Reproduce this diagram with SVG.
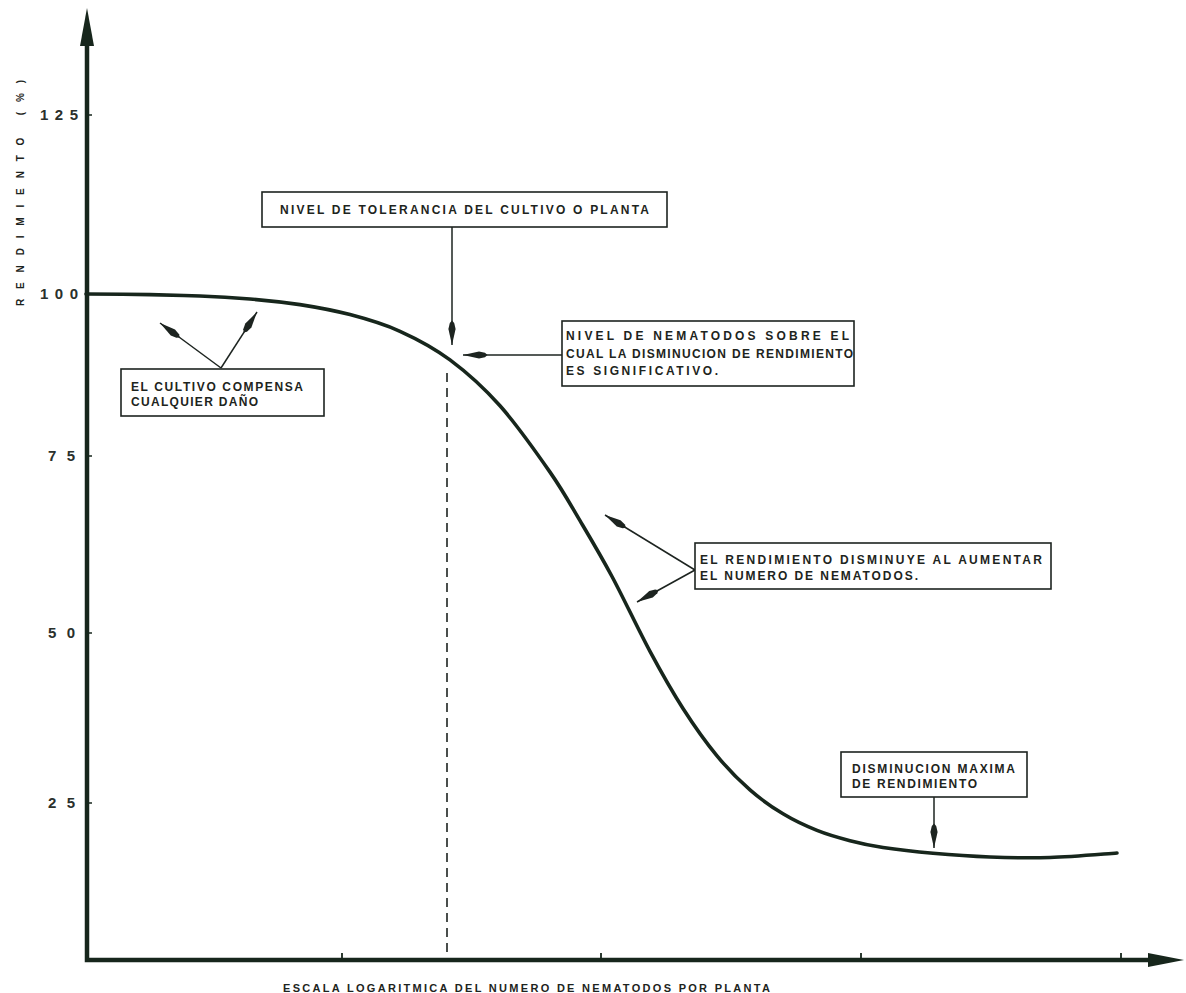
<svg xmlns="http://www.w3.org/2000/svg" width="1186" height="993" viewBox="0 0 1186 993">
<defs>
<style>
.t{font-family:"Liberation Sans",Arial,sans-serif;font-weight:bold;font-size:12px;fill:#1d2420}
.n{font-family:"Liberation Sans",Arial,sans-serif;font-weight:bold;font-size:15px;fill:#2a302c}
.box{fill:#fff;stroke:#1d2420;stroke-width:1.6}
.con{stroke:#1d2420;stroke-width:1.5;fill:none}
.axis{stroke:#17261c;stroke-width:4.5;fill:none}
</style>
<marker id="ah" markerUnits="userSpaceOnUse" markerWidth="30" markerHeight="12" viewBox="-26 -6 28 12" refX="0" refY="0" orient="auto">
<path d="M0,0 L-16,-3.6 L-22,-2.2 L-24.5,0 L-22,2.2 L-16,3.6 Z" fill="#1d2420"/>
</marker>
</defs>
<rect width="1186" height="993" fill="#fff"/>

<g id="axes">
<path class="axis" d="M87,42 L87,960 L1152,960"/>
<path d="M87,8 L80,46 L94,46 Z" fill="#17261c"/>
<path d="M1184,960 L1148,953 L1148,967 Z" fill="#17261c"/>
<path d="M87,115 h5 M87,294 h5 M87,456 h5 M87,633 h5 M87,803 h5" stroke="#17261c" stroke-width="1.5"/>
<path d="M342,960 v-7 M601,960 v-7 M861,960 v-7 M1121,960 v-7" stroke="#17261c" stroke-width="1.8"/>
<text class="n" x="40" y="120" textLength="38">125</text>
<text class="n" x="40" y="299" textLength="38">100</text>
<text class="n" x="48" y="461" textLength="27">75</text>
<text class="n" x="48" y="638" textLength="27">50</text>
<text class="n" x="48" y="808" textLength="27">25</text>
<text class="t" style="font-size:10px" transform="translate(24,306) rotate(-90)" x="0" y="0" textLength="226">RENDIMIENTO (%)</text>
<text class="t" style="font-size:11px" x="283" y="992" textLength="487">ESCALA LOGARITMICA DEL NUMERO DE NEMATODOS POR PLANTA</text>
</g>

<g id="curve">
<path d="M86,294 C96.67,294.1 131,294.3 150,294.6 C169,295 183.33,295.4 200,296 C216.67,296.6 233.33,297.6 250,299 C266.67,300.4 283.33,302.2 300,304.6 C316.67,307.2 333.33,310.22 350,314.6 C366.67,318.98 383.33,323.75 400,331.3 C416.67,338.85 433.33,347.48 450,359.9 C466.67,372.32 483.33,387.1 500,405.8 C516.67,424.5 536.67,452.95 550,472.1 C563.33,491.25 569.67,503.3 580,520.7 C590.33,538.1 600.33,554.72 612,576.5 C623.67,598.28 638.17,629.4 650,651.4 C661.83,673.4 671.83,691.08 683,708.5 C694.17,725.92 705.83,742.33 717,755.9 C728.17,769.47 739,780.25 750,789.9 C761,799.55 771.83,807.05 783,813.8 C794.17,820.55 805.83,825.92 817,830.4 C828.17,834.88 839,837.85 850,840.7 C861,843.55 869.17,845.4 883,847.5 C896.83,849.6 915.17,851.72 933,853.3 C950.83,854.88 970.5,856.3 990,857 C1009.5,857.7 1028.83,858.17 1050,857.5 C1071.17,856.83 1105.83,853.75 1117,853" fill="none" stroke="#17261c" stroke-width="3.6" stroke-linecap="round"/>
<line x1="447" y1="373" x2="447" y2="958" stroke="#1d2420" stroke-width="1.6" stroke-dasharray="9,6"/>
</g>

<g id="connectors">
<line class="con" x1="452" y1="227" x2="452" y2="345" marker-end="url(#ah)"/>
<line class="con" x1="562" y1="355" x2="463" y2="355" marker-end="url(#ah)"/>
<line class="con" x1="221" y1="368" x2="160" y2="323" marker-end="url(#ah)"/>
<line class="con" x1="221" y1="368" x2="257" y2="312" marker-end="url(#ah)"/>
<line class="con" x1="695" y1="570" x2="605" y2="515" marker-end="url(#ah)"/>
<line class="con" x1="695" y1="570" x2="637" y2="602" marker-end="url(#ah)"/>
<line class="con" x1="934" y1="797" x2="934" y2="848" marker-end="url(#ah)"/>
</g>

<g id="node-tolerancia">
<rect class="box" x="262" y="192" width="405" height="35"/>
<text class="t" x="280" y="214" textLength="369">NIVEL DE TOLERANCIA DEL CULTIVO O PLANTA</text>
</g>

<g id="node-nivel">
<rect class="box" x="562" y="321" width="292" height="65"/>
<text class="t" x="566" y="340" textLength="283">NIVEL DE NEMATODOS  SOBRE EL</text>
<text class="t" x="566" y="358" textLength="287">CUAL LA DISMINUCION DE RENDIMIENTO</text>
<text class="t" x="566" y="375" textLength="152">ES SIGNIFICATIVO.</text>
</g>

<g id="node-compensa">
<rect class="box" x="121" y="369" width="203" height="47"/>
<text class="t" x="131" y="391" textLength="172">EL CULTIVO COMPENSA</text>
<text class="t" x="131" y="406" textLength="127">CUALQUIER DAÑO</text>
</g>

<g id="node-disminuye">
<rect class="box" x="695" y="543" width="356" height="46"/>
<text class="t" x="700" y="564" textLength="342">EL RENDIMIENTO  DISMINUYE AL AUMENTAR</text>
<text class="t" x="700" y="580" textLength="218">EL NUMERO DE NEMATODOS.</text>
</g>

<g id="node-maxima">
<rect class="box" x="841" y="752" width="186" height="45"/>
<text class="t" x="852" y="773" textLength="163">DISMINUCION  MAXIMA</text>
<text class="t" x="852" y="788" textLength="125">DE RENDIMIENTO</text>
</g>
</svg>
